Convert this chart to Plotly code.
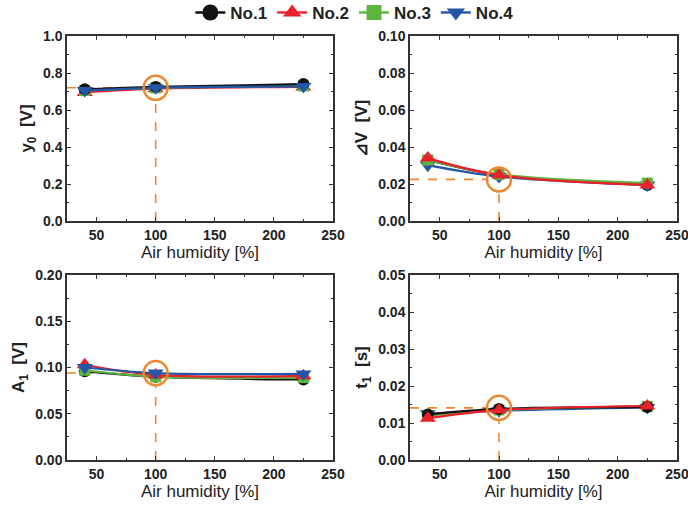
import plotly.graph_objects as go
import numpy as np

humidity = [40, 100, 225]
series_names = ["No.1", "No.2", "No.3", "No.4"]
colors = {"No.1": "#111111", "No.2": "#e8212b", "No.3": "#5cb53e", "No.4": "#2356a6"}
symbols = {"No.1": "circle", "No.2": "triangle-up", "No.3": "square", "No.4": "triangle-down"}
msize = {"No.1": 12, "No.2": 14, "No.3": 11, "No.4": 14}

y0_vals = {"No.1": [0.712, 0.725, 0.740], "No.2": [0.695, 0.715, 0.725],
           "No.3": [0.705, 0.720, 0.730], "No.4": [0.705, 0.720, 0.727]}
dv_vals = {"No.1": [0.0330, 0.0250, 0.0195], "No.2": [0.0340, 0.0248, 0.0195],
           "No.3": [0.0330, 0.0252, 0.0205], "No.4": [0.0302, 0.0240, 0.0195]}
a1_vals = {"No.1": [0.096, 0.090, 0.087], "No.2": [0.103, 0.092, 0.091],
           "No.3": [0.097, 0.090, 0.089], "No.4": [0.100, 0.094, 0.093]}
t1_vals = {"No.1": [0.0123, 0.0138, 0.0143], "No.2": [0.0113, 0.0135, 0.0146],
           "No.3": [0.0120, 0.0135, 0.0145], "No.4": [0.0125, 0.0133, 0.0142]}

highlight_x = 100
highlight_y = {"y0": 0.72, "dv": 0.0225, "a1": 0.094, "t1": 0.0141}

panels = [
    dict(key="y0", data=y0_vals, row=1, col=1, yr=[0, 1.0], dt=0.2, mdt=0.1, fmt=".1f",
         title="y<sub>0</sub>  [V]", order=["No.2", "No.3", "No.1", "No.4"]),
    dict(key="dv", data=dv_vals, row=1, col=2, yr=[0, 0.10], dt=0.02, mdt=0.01, fmt=".2f",
         title="⊿V  [V]", order=["No.1", "No.4", "No.3", "No.2"]),
    dict(key="a1", data=a1_vals, row=2, col=1, yr=[0, 0.20], dt=0.05, mdt=0.025, fmt=".2f",
         title="A<sub>1</sub>  [V]", order=["No.1", "No.3", "No.2", "No.4"]),
    dict(key="t1", data=t1_vals, row=2, col=2, yr=[0, 0.05], dt=0.01, mdt=0.005, fmt=".2f",
         title="t<sub>1</sub>  [s]", order=["No.4", "No.3", "No.1", "No.2"]),
]

W, H = 688, 508
xdom = {1: [67 / W, 333 / W], 2: [410 / W, 677 / W]}
ydom = {1: [1 - 221 / H, 1 - 36 / H], 2: [1 - 460 / H, 1 - 275 / H]}
xrange_ = [25, 250]
orange = "#f0872f"
circ_r_px = 12

fig = go.Figure()
layout = dict(width=W, height=H, margin=dict(l=0, r=0, t=0, b=0, autoexpand=False),
              paper_bgcolor="white", plot_bgcolor="white",
              font=dict(family="Liberation Sans, Arial, sans-serif", color="#222"))

for i, p in enumerate(panels):
    n = i + 1
    xa = "x" if n == 1 else f"x{n}"
    ya = "y" if n == 1 else f"y{n}"
    xd = xdom[p["col"]]
    yd = ydom[p["row"]]
    hy = highlight_y[p["key"]]
    # pixel-to-data conversions for circle radius
    xpx = (xd[1] - xd[0]) * W / (xrange_[1] - xrange_[0])
    ypx = (yd[1] - yd[0]) * H / (p["yr"][1] - p["yr"][0])
    dx = circ_r_px / xpx
    dy = circ_r_px / ypx
    # dashed guides
    fig.add_trace(go.Scatter(x=[xrange_[0], highlight_x - dx], y=[hy, hy], mode="lines",
                             line=dict(color=orange, width=1.6, dash="dash"),
                             xaxis=xa, yaxis=ya, showlegend=False, hoverinfo="skip"))
    fig.add_trace(go.Scatter(x=[highlight_x, highlight_x], y=[p["yr"][0], hy - dy], mode="lines",
                             line=dict(color=orange, width=1.6, dash="dash"),
                             xaxis=xa, yaxis=ya, showlegend=False, hoverinfo="skip"))
    for name in p["order"]:
        fig.add_trace(go.Scatter(
            x=humidity, y=p["data"][name], name=name, mode="lines+markers",
            line=dict(color=colors[name], width=2.2, shape="spline"),
            marker=dict(symbol=symbols[name], size=msize[name], color=colors[name]),
            xaxis=xa, yaxis=ya, showlegend=False))
    fig.add_trace(go.Scatter(x=[highlight_x], y=[hy], mode="markers",
                             marker=dict(symbol="circle-open", size=2 * circ_r_px,
                                         line=dict(color=orange, width=2.5), color=orange),
                             xaxis=xa, yaxis=ya, showlegend=False, hoverinfo="skip"))
    axcommon = dict(showline=True, linecolor="#333", linewidth=1.5, mirror="allticks",
                    ticks="inside", ticklen=4, tickwidth=1.2, tickcolor="#333",
                    showgrid=False, zeroline=False, automargin=False, ticklabeloverflow="allow",
                    tickfont=dict(size=14, color="#222", weight="bold"))
    layout["xaxis" if n == 1 else f"xaxis{n}"] = dict(
        axcommon, domain=xd, range=xrange_, dtick=50, tick0=0, anchor=ya,
        minor=dict(ticks="inside", ticklen=2, dtick=25, tick0=0, tickcolor="#333"),
        title=dict(text="Air humidity [%]", font=dict(size=17, color="#222"), standoff=4))
    layout["yaxis" if n == 1 else f"yaxis{n}"] = dict(
        axcommon, domain=yd, range=p["yr"], dtick=p["dt"], tick0=0, tickformat=p["fmt"], anchor=xa,
        minor=dict(ticks="inside", ticklen=2, dtick=p["mdt"], tick0=0, tickcolor="#333"),
        title=dict(text=p["title"], font=dict(size=17, color="#222", weight="bold"), standoff=6))

# legend entries
for name in series_names:
    fig.add_trace(go.Scatter(x=[None], y=[None], name=name, mode="lines+markers",
                             line=dict(color=colors[name], width=2.4),
                             marker=dict(symbol=symbols[name], size=msize[name] + 4, color=colors[name]),
                             xaxis="x", yaxis="y", showlegend=True))

layout["legend"] = dict(orientation="h", x=0.515, xanchor="center", y=1.01, yanchor="top",
                        font=dict(size=17, color="#222", weight="bold"),
                        bgcolor="rgba(0,0,0,0)", itemwidth=30, tracegroupgap=0)
fig.update_layout(**layout)
fig.write_html("out.html", config={"displayModeBar": False},
               post_script="document.body.style.margin='0';document.body.style.overflow='hidden';")
